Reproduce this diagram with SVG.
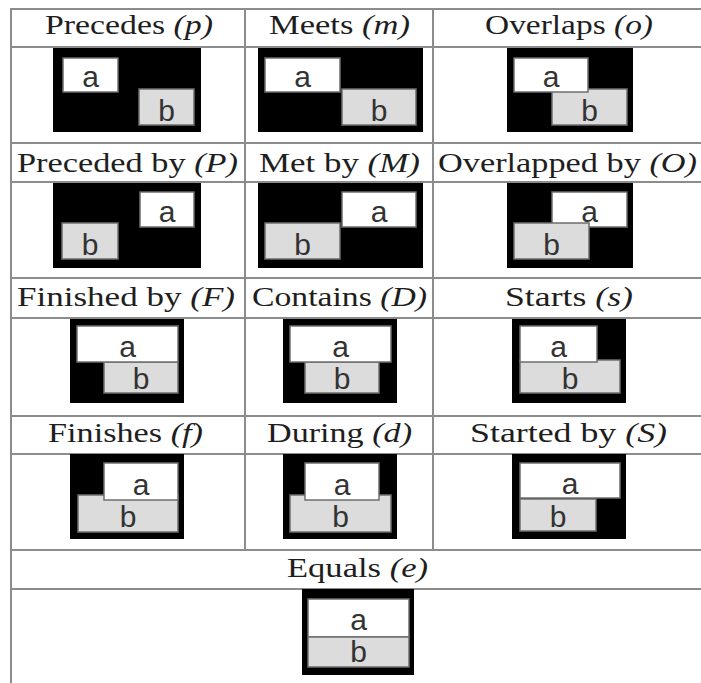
<svg xmlns="http://www.w3.org/2000/svg" width="701" height="683" viewBox="0 0 701 683">
<style>
.grid line{stroke:#8c8c8c;stroke-width:2}
.hdr{font-family:"Liberation Serif","Times New Roman",serif;font-size:28px;fill:#1e1e1e;text-anchor:middle}
.it{font-style:italic}
.bk{fill:#000}
.ba{fill:#fff;stroke:#6e6e6e;stroke-width:1.5}
.bb{fill:#dcdcdc;stroke:#6e6e6e;stroke-width:1.5}
.lb{font-family:"Liberation Sans",Arial,sans-serif;font-size:30px;fill:#333;text-anchor:middle}
</style>
<rect width="701" height="683" fill="#fff"/>
<g id="grid" class="grid">
<line x1="11" y1="9" x2="701" y2="9"/>
<line x1="11" y1="47" x2="701" y2="47"/>
<line x1="11" y1="143" x2="701" y2="143"/>
<line x1="11" y1="182" x2="701" y2="182"/>
<line x1="11" y1="278" x2="701" y2="278"/>
<line x1="11" y1="318" x2="701" y2="318"/>
<line x1="11" y1="416" x2="701" y2="416"/>
<line x1="11" y1="454" x2="701" y2="454"/>
<line x1="11" y1="550" x2="701" y2="550"/>
<line x1="11" y1="589" x2="701" y2="589"/>
<line x1="11" y1="8" x2="11" y2="683"/>
<line x1="245" y1="8" x2="245" y2="550"/>
<line x1="433" y1="8" x2="433" y2="550"/>
</g>

<g id="precedes">
<text class="hdr" x="129" y="34" textLength="168" lengthAdjust="spacingAndGlyphs">Precedes <tspan class="it">(p)</tspan></text>
<rect class="bk" x="53" y="48" width="148" height="84"/>
<rect class="ba" x="63" y="58" width="55" height="34"/>
<text class="lb" x="90.5" y="87">a</text>
<rect class="bb" x="139" y="89" width="55" height="36"/>
<text class="lb" x="166.5" y="121">b</text>
</g>

<g id="meets">
<text class="hdr" x="339.5" y="34" textLength="141" lengthAdjust="spacingAndGlyphs">Meets <tspan class="it">(m)</tspan></text>
<rect class="bk" x="258" y="48" width="165" height="84"/>
<rect class="ba" x="265" y="58" width="75" height="34"/>
<text class="lb" x="302.5" y="87">a</text>
<rect class="bb" x="342" y="89" width="74" height="36"/>
<text class="lb" x="379" y="121">b</text>
</g>

<g id="overlaps">
<text class="hdr" x="569" y="34" textLength="168" lengthAdjust="spacingAndGlyphs">Overlaps <tspan class="it">(o)</tspan></text>
<rect class="bk" x="507" y="48" width="126" height="84"/>
<rect class="bb" x="552" y="89" width="75" height="36"/>
<text class="lb" x="589.5" y="121">b</text>
<rect class="ba" x="514" y="58" width="74" height="34"/>
<text class="lb" x="551" y="87">a</text>
</g>

<g id="preceded-by">
<text class="hdr" x="127.5" y="172" textLength="221" lengthAdjust="spacingAndGlyphs">Preceded by <tspan class="it">(P)</tspan></text>
<rect class="bk" x="53" y="183" width="148" height="85"/>
<rect class="ba" x="140" y="192" width="54" height="35"/>
<text class="lb" x="167" y="222">a</text>
<rect class="bb" x="62" y="223" width="56" height="36"/>
<text class="lb" x="90" y="255">b</text>
</g>

<g id="met-by">
<text class="hdr" x="339.5" y="172" textLength="161" lengthAdjust="spacingAndGlyphs">Met by <tspan class="it">(M)</tspan></text>
<rect class="bk" x="258" y="183" width="165" height="85"/>
<rect class="ba" x="342" y="192" width="74" height="35"/>
<text class="lb" x="379" y="222">a</text>
<rect class="bb" x="265" y="223" width="75" height="36"/>
<text class="lb" x="302.5" y="255">b</text>
</g>

<g id="overlapped-by">
<text class="hdr" x="567.5" y="172" textLength="259" lengthAdjust="spacingAndGlyphs">Overlapped by <tspan class="it">(O)</tspan></text>
<rect class="bk" x="507" y="183" width="126" height="85"/>
<rect class="ba" x="552" y="192" width="75" height="35"/>
<text class="lb" x="589.5" y="222">a</text>
<rect class="bb" x="514" y="223" width="75" height="36"/>
<text class="lb" x="551.5" y="255">b</text>
</g>

<g id="finished-by">
<text class="hdr" x="126" y="306" textLength="218" lengthAdjust="spacingAndGlyphs">Finished by <tspan class="it">(F)</tspan></text>
<rect class="bk" x="70" y="319" width="114" height="84"/>
<rect class="bb" x="104" y="362" width="74" height="31"/>
<text class="lb" x="141" y="389">b</text>
<rect class="ba" x="77" y="326" width="101" height="36"/>
<text class="lb" x="127.5" y="357">a</text>
</g>

<g id="contains">
<text class="hdr" x="339.5" y="306" textLength="175" lengthAdjust="spacingAndGlyphs">Contains <tspan class="it">(D)</tspan></text>
<rect class="bk" x="283" y="319" width="114" height="84"/>
<rect class="bb" x="305" y="362" width="74" height="31"/>
<text class="lb" x="342" y="389">b</text>
<rect class="ba" x="290" y="326" width="101" height="36"/>
<text class="lb" x="340.5" y="357">a</text>
</g>

<g id="starts">
<text class="hdr" x="569" y="306" textLength="128" lengthAdjust="spacingAndGlyphs">Starts <tspan class="it">(s)</tspan></text>
<rect class="bk" x="512" y="319" width="114" height="84"/>
<rect class="bb" x="520" y="360" width="100" height="33"/>
<text class="lb" x="570" y="389">b</text>
<rect class="ba" x="520" y="326" width="77" height="36"/>
<text class="lb" x="558.5" y="357">a</text>
</g>

<g id="finishes">
<text class="hdr" x="125.5" y="442" textLength="155" lengthAdjust="spacingAndGlyphs">Finishes <tspan class="it">(f)</tspan></text>
<rect class="bk" x="70" y="454" width="114" height="85"/>
<rect class="bb" x="78" y="495" width="100" height="37"/>
<text class="lb" x="128" y="527">b</text>
<rect class="ba" x="104" y="463" width="74" height="37"/>
<text class="lb" x="141" y="495">a</text>
</g>

<g id="during">
<text class="hdr" x="339.5" y="442" textLength="145" lengthAdjust="spacingAndGlyphs">During <tspan class="it">(d)</tspan></text>
<rect class="bk" x="283" y="454" width="114" height="85"/>
<rect class="bb" x="290" y="495" width="101" height="37"/>
<text class="lb" x="340.5" y="527">b</text>
<rect class="ba" x="305" y="463" width="74" height="37"/>
<text class="lb" x="342" y="495">a</text>
</g>

<g id="started-by">
<text class="hdr" x="568.5" y="442" textLength="197" lengthAdjust="spacingAndGlyphs">Started by <tspan class="it">(S)</tspan></text>
<rect class="bk" x="512" y="454" width="114" height="85"/>
<rect class="ba" x="520" y="463" width="100" height="35"/>
<text class="lb" x="570" y="494">a</text>
<rect class="bb" x="520" y="499" width="76" height="32"/>
<text class="lb" x="558" y="527">b</text>
</g>

<g id="equals">
<text class="hdr" x="357.5" y="577" textLength="141" lengthAdjust="spacingAndGlyphs">Equals <tspan class="it">(e)</tspan></text>
<rect class="bk" x="302" y="589" width="112" height="86"/>
<rect class="ba" x="308" y="599" width="101" height="38"/>
<text class="lb" x="358.5" y="630">a</text>
<rect class="bb" x="308" y="637" width="101" height="30"/>
<text class="lb" x="358.5" y="662">b</text>
</g>
</svg>
